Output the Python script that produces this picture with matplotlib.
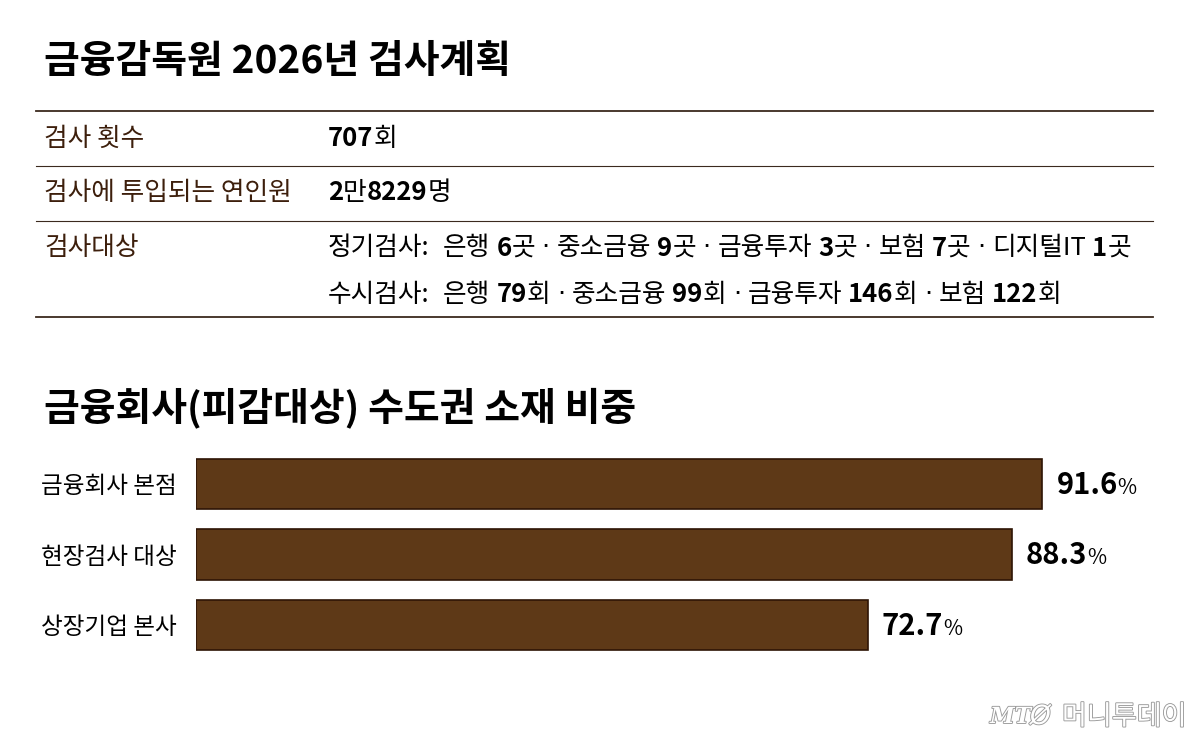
import re
import matplotlib
matplotlib.use('Agg')
import matplotlib.pyplot as plt
import matplotlib.patheffects as pe

FONT = ['Noto Sans CJK KR', 'DejaVu Sans']
plt.rcParams['font.family'] = FONT

W, H = 1200, 742

# data
main_title = '금융감독원 2026년 검사계획'
table_labels = ['검사 횟수', '검사에 투입되는 연인원', '검사대상']
table_values = [
    ['707회'],
    ['2만8229명'],
    ['정기검사:  은행 6곳 · 중소금융 9곳 · 금융투자 3곳 · 보험 7곳 · 디지털IT 1곳',
     '수시검사:  은행 79회 · 중소금융 99회 · 금융투자 146회 · 보험 122회'],
]
bar_title = '금융회사(피감대상) 수도권 소재 비중'
bar_labels = ['금융회사 본점', '현장검사 대상', '상장기업 본사']
bar_values = [91.6, 88.3, 72.7]
logo_text = '머니투데이'

BAR_COLOR = '#5e3917'
BAR_EDGE = '#2e1405'
LINE_COLOR = '#3b2a1e'
LABEL_COLOR = '#3d1f0c'

fig = plt.figure(figsize=(W / 100, H / 100), dpi=100)
fig.patch.set_facecolor('white')
renderer = fig.canvas.get_renderer()


def px(x, y):
    # pixel from top-left -> figure fraction
    return x / W, 1 - y / H


def write_mixed(x, y, s, size, color='black', space=6):
    # digits bold, the rest normal, pieces set one after another
    for w in s.split(' '):
        for part in re.findall(r'\d+|\D+', w):
            kw = {}
            if part == '·':
                # narrow dot instead of the full-width CJK one
                kw['family'] = 'DejaVu Sans'
            t = fig.text(*px(x, y), part, fontsize=size, color=color, va='center',
                         fontweight='bold' if part.isdigit() else 'normal', **kw)
            x += t.get_window_extent(renderer).width
        x += space
    return x


# titles
fig.text(*px(44, 62), main_title, fontsize=28, fontweight='bold', va='center')
fig.text(*px(44, 408), bar_title, fontsize=28, fontweight='bold', va='center')

# table rules
for ly, lw in [(111, 1.3), (166, 0.8), (221, 0.8), (317, 1.3)]:
    fig.add_artist(plt.Line2D([36 / W, 1153 / W], [1 - ly / H] * 2, color=LINE_COLOR, lw=lw))

row_y = [139, 193, 248]
for lab, vals, ry in zip(table_labels, table_values, row_y):
    fig.text(*px(44, ry), lab, fontsize=18.5, fontweight='medium', color=LABEL_COLOR, va='center')
    for k, v in enumerate(vals):
        write_mixed(328, ry + k * 47, v, 18.5, space=6.5)

# bars
ax = fig.add_axes([196 / W, 1 - 660.25 / H, 924 / W, 211.5 / H])
ypos = list(range(len(bar_values)))
ax.barh(ypos, bar_values, height=0.71, color=BAR_COLOR, edgecolor=BAR_EDGE, linewidth=1.2)
ax.set_xlim(0, 100)
ax.set_ylim(len(bar_values) - 0.5, -0.5)
ax.set_yticks(ypos)
ax.set_yticklabels(bar_labels, fontsize=17)
ax.tick_params(axis='y', length=0, pad=14)
ax.set_xticks([])
for s in ax.spines.values():
    s.set_visible(False)
ax.patch.set_alpha(0)

fig.canvas.draw()
for v, yy in zip(bar_values, ypos):
    dx, dy = ax.transData.transform((v, yy))
    x0 = dx + 14
    base = dy - 10
    t = fig.text(x0 / W, base / H, f'{v:.1f}', fontsize=21, fontweight='bold', va='baseline')
    x0 += t.get_window_extent(renderer).width
    fig.text(x0 / W, base / H, '%', fontsize=15, va='baseline')

# logo
outline = [pe.withStroke(linewidth=1.3, foreground='#9a9a9a')]
fig.text(*px(990, 717), 'MT', fontsize=16, fontstyle='italic', fontweight='bold',
         family='DejaVu Serif', color='white', va='center', path_effects=outline)
fig.text(*px(1030, 717), 'Ø', fontsize=19, fontstyle='italic',
         family='DejaVu Sans', color='white', va='center', path_effects=outline)
fig.text(*px(1062, 717), logo_text, fontsize=19.5, color='white', va='center', path_effects=outline)

fig.savefig('out.png', dpi=100, facecolor='white')
